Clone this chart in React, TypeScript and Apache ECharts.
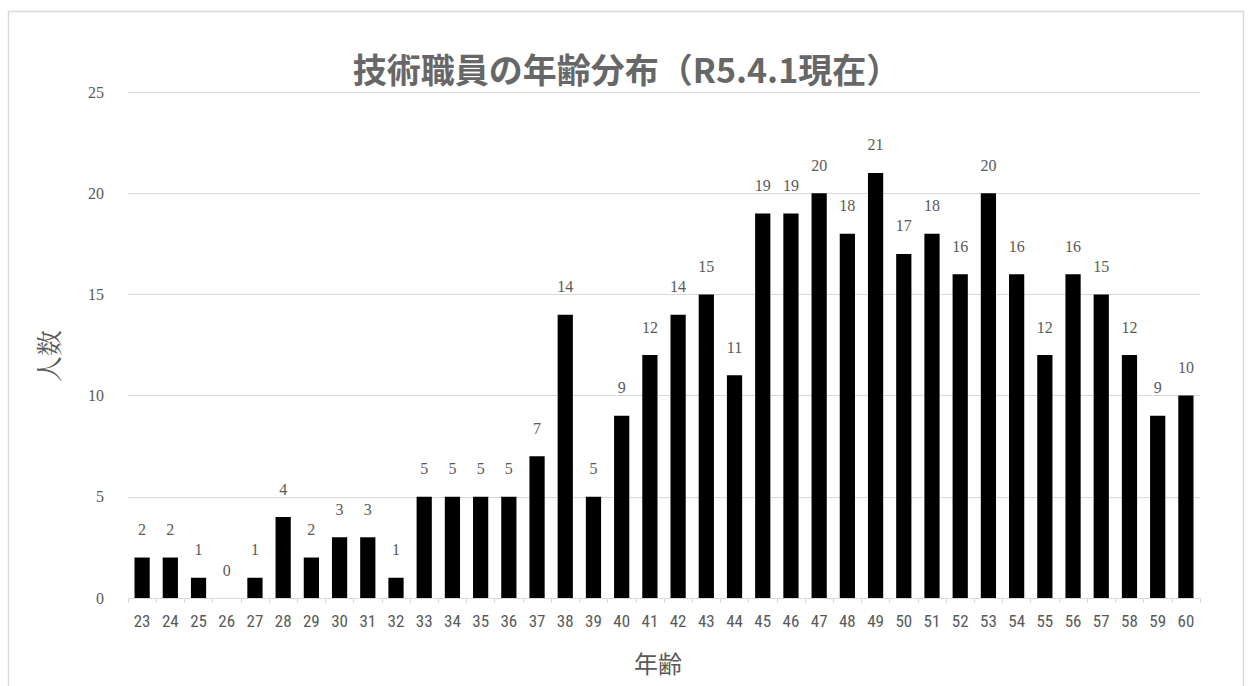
import React, { useEffect, useRef } from "react";
import * as echarts from "echarts";

const ages: string[] = [
  "23","24","25","26","27","28","29","30","31","32","33","34","35","36","37","38","39","40","41",
  "42","43","44","45","46","47","48","49","50","51","52","53","54","55","56","57","58","59","60",
];
const counts: number[] = [
  2, 2, 1, 0, 1, 4, 2, 3, 3, 1, 5, 5, 5, 5, 7, 14, 5, 9, 12,
  14, 15, 11, 19, 19, 20, 18, 21, 17, 18, 16, 20, 16, 12, 16, 15, 12, 9, 10,
];
const titleText = "技術職員の年齢分布（R5.4.1現在）";
const yName = "人数";
const xName = "年齢";

export default function App() {
  const ref = useRef<HTMLDivElement>(null);
  useEffect(() => {
    if (!ref.current) return;
    const chart = echarts.init(ref.current, null, { renderer: "svg" });
    const grey = "#595959";
    chart.setOption({
      animation: false,
      backgroundColor: "#ffffff",
      graphic: [
        {
          type: "rect",
          shape: { x: 8.5, y: 11.5, width: 1235, height: 690 },
          style: { fill: "none", stroke: "#d9d9d9", lineWidth: 1.5 },
          silent: true,
        },
        {
          type: "text",
          x: 658,
          y: 662,
          style: {
            text: xName,
            font: '24px "Noto Sans CJK JP"',
            fill: grey,
            textAlign: "center",
            textVerticalAlign: "middle",
          },
        },
        {
          type: "text",
          x: 47,
          y: 356,
          rotation: Math.PI / 2,
          style: {
            text: yName,
            font: '26px "Noto Serif CJK JP", "Noto Sans CJK JP"',
            fill: grey,
            textAlign: "center",
            textVerticalAlign: "middle",
          },
        },
      ],
      title: {
        text: titleText,
        left: "center",
        top: 46,
        textStyle: {
          fontFamily: '"Noto Sans CJK JP"',
          fontSize: 34,
          fontWeight: "bold",
          color: "#676767",
        },
      },
      grid: { left: 128, right: 53, top: 92, bottom: 88, containLabel: false },
      xAxis: {
        type: "category",
        data: ages,
        axisLine: { lineStyle: { color: "#d9d9d9", width: 1 } },
        axisTick: { show: true, length: 5, lineStyle: { color: "#d9d9d9" } },
        axisLabel: {
          color: grey,
          fontSize: 17,
          fontFamily: '"Roboto Condensed", "DejaVu Sans Condensed", "Liberation Sans Narrow", Roboto',
          margin: 14,
          interval: 0,
        },
      },
      yAxis: {
        type: "value",
        min: 0,
        max: 25,
        interval: 5,
        axisLine: { show: false },
        axisTick: { show: false },
        splitLine: { lineStyle: { color: "#d9d9d9", width: 1 } },
        axisLabel: {
          color: grey,
          fontSize: 16,
          fontFamily: '"Liberation Serif", "DejaVu Serif", serif',
          margin: 24,
        },
      },
      series: [
        {
          type: "bar",
          data: counts,
          barWidth: "54%",
          itemStyle: { color: "#000000" },
          label: {
            show: true,
            position: "top",
            distance: 20,
            color: grey,
            fontSize: 16,
            fontFamily: '"Liberation Serif", "DejaVu Serif", serif',
          },
        },
      ],
    });
    return () => chart.dispose();
  }, []);
  return (
    <div
      ref={ref}
      style={{ position: "fixed", left: 0, top: 0, width: 1253, height: 686, background: "#fff" }}
    />
  );
}
